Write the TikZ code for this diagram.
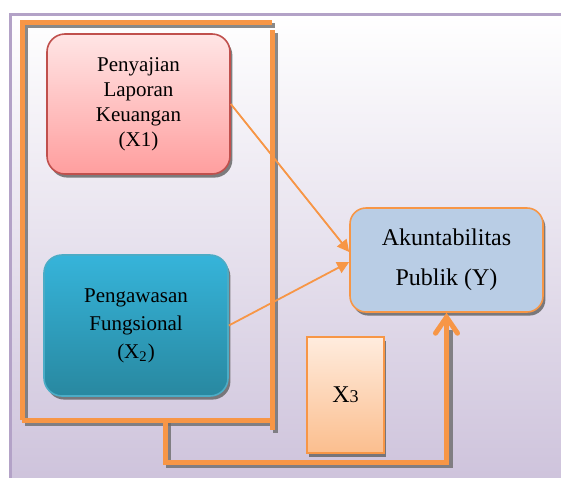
\documentclass[tikz,border=0pt]{standalone}
\usepackage{fontspec}
\setmainfont{Liberation Serif}
\usetikzlibrary{arrows.meta,shadows}
\definecolor{frameline}{HTML}{B3A2C7}
\definecolor{framebot}{HTML}{CDC2DB}
\definecolor{orng}{HTML}{F79646}
\definecolor{redline}{HTML}{C0504D}
\definecolor{tealline}{HTML}{4BACC6}
\tikzset{
  line/.style={orng,line width=2.5pt},
  lineshadow/.style={gray!85!black,line width=2.5pt,opacity=0.8},
  boxshadow/.style={drop shadow={shadow xshift=1.2pt,shadow yshift=-1.8pt,fill=gray!75!black,opacity=0.8}},
  varbox/.style={rounded corners=9pt,line width=0.8pt,align=center,boxshadow,
    font=\fontsize{10.5}{12.5}\selectfont},
  thinarrow/.style={orng,line width=0.9pt,-{Triangle[length=6pt,width=6pt]}},
  bigarrow/.style={orng,line width=2.5pt,-{Straight Barb[length=8pt,width=11pt,line cap=round]}}
}
\begin{document}
\begin{tikzpicture}[x=0.5pt,y=-0.5pt]
  \useasboundingbox (0,0) rectangle (561,477);
  \clip (0,0) rectangle (561,477);
  \shade[top color=white,bottom color=framebot] (10,14) rectangle (575,490);
  \draw[frameline,line width=1.5pt] (10,490) -- (10,14) -- (575,14);

  \node[varbox,draw=redline,top color=red!10,bottom color=red!38,
        minimum width=91.5pt,minimum height=70pt] (x1) at (138.5,104)
        {Penyajian\\Laporan\\Keuangan\\(X1)};
  \node[varbox,draw=tealline,top color={rgb,255:red,54;green,180;blue,218},
        bottom color={rgb,255:red,40;green,136;blue,160},
        minimum width=92pt,minimum height=70.5pt,
        font=\fontsize{10.5}{14}\selectfont] (x2) at (136,325.5)
        {Pengawasan\\Fungsional\\(X\textsubscript{2})};
  \node[varbox,draw=orng,fill={rgb,255:red,185;green,205;blue,229},rounded corners=8pt,
        minimum width=96.5pt,minimum height=52pt,
        font=\fontsize{12}{20}\selectfont] (y) at (446.5,260)
        {Akuntabilitas\\Publik (Y)};
  \node[draw=orng,line width=0.8pt,boxshadow,top color={rgb,255:red,255;green,236;blue,222},
        bottom color={rgb,255:red,251;green,190;blue,142},
        minimum width=38.5pt,minimum height=58pt,
        font=\fontsize{12}{12}\selectfont] (x3) at (345.5,395)
        {X{\fontsize{9}{9}\selectfont 3}\hspace{4pt}};

  \coordinate (stem) at (165,420);
  \draw[lineshadow] (25,423) -- (25,25) -- (275,25);
  \draw[lineshadow] (275,33) -- (275,433);
  \draw[lineshadow] (25,423) -- (275,423);
  \draw[lineshadow] (168,423) -- (168,465) -- (450,465) -- (450,330);
  \draw[line] (22,420) -- (22,22) -- (272,22);
  \draw[line] (272,30) -- (272,430);
  \draw[line] (22,420) -- (272,420);

  \draw[thinarrow] (x1.east) -- ([yshift=4pt]y.west);
  \draw[thinarrow] (x2.east) -- ([yshift=-1pt]y.west);
  \draw[bigarrow] (stem) -- (165,462) -| (y.south);
\end{tikzpicture}
\end{document}
